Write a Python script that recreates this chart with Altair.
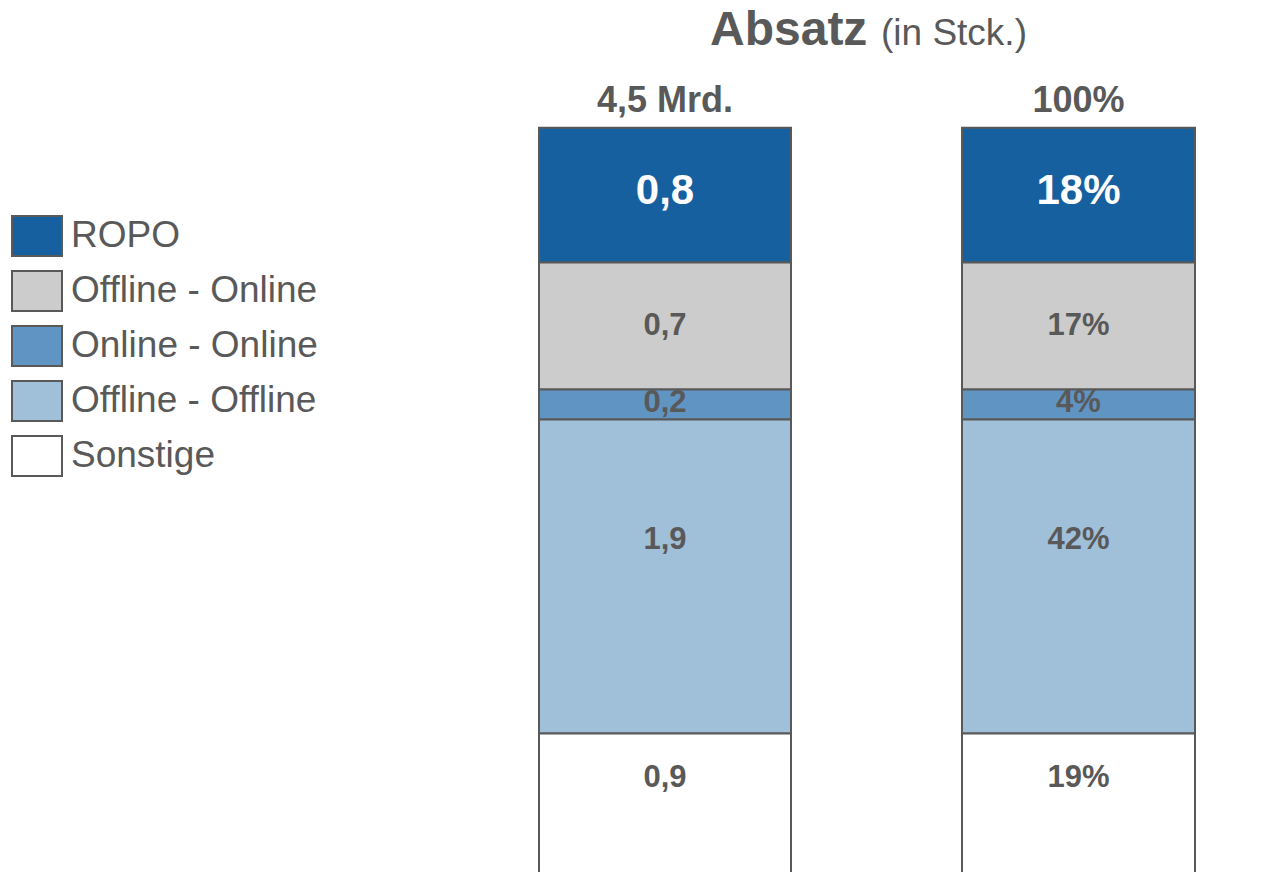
import altair as alt
import pandas as pd

# ---- data -------------------------------------------------------------
categories = ["ROPO", "Offline - Online", "Online - Online", "Offline - Offline", "Sonstige"]
colors = ["#1660A0", "#CCCCCC", "#6094C2", "#A0BFD9", "#FFFFFF"]
abs_values = [0.8, 0.7, 0.2, 1.9, 0.9]   # Mrd. Stück
pct_values = [18, 17, 4, 42, 19]          # Anteil in %
bars = ["abs", "pct"]

GRAY = "#595959"
FONT = "Liberation Sans"


def de(v):
    return f"{v:.1f}".replace(".", ",")


rows = []
for i, c in enumerate(categories):
    order = len(categories) - 1 - i
    # both bars are drawn by share (%); the left one is labelled in Mrd.
    rows.append(dict(bar="abs", cat=c, share=pct_values[i], label=de(abs_values[i]), order=order))
    rows.append(dict(bar="pct", cat=c, share=pct_values[i], label=f"{pct_values[i]}%", order=order))
df = pd.DataFrame(rows)

totals = pd.DataFrame({
    "bar": bars,
    "label": [de(sum(abs_values)) + " Mrd.", f"{sum(pct_values)}%"],
})

# ---- scales -----------------------------------------------------------
PX_PER_UNIT = 748.0
yscale = alt.Scale(domain=[0.005, 1.16008], nice=False, zero=False)
xscale = alt.Scale(type="point", domain=bars, range=[657, 1070.5], padding=0)

# label offsets in pixels (downwards positive)
label_shift = {"ROPO": -4, "Offline - Online": 0, "Online - Online": -1,
               "Offline - Offline": -37, "Sonstige": -27}
shift_expr = " : ".join(
    f"datum.cat === '{k}' ? {v}" for k, v in label_shift.items()
) + " : 0"

base = alt.Chart(df).transform_stack(
    stack="share",
    groupby=["bar"],
    as_=["y0", "y1"],
    offset="normalize",
    sort=[alt.SortField("order", order="ascending")],
)

bar_layer = base.mark_bar(stroke=GRAY, strokeWidth=2, clip=True).encode(
    x=alt.X("bar:N", scale=xscale, axis=None),
    y=alt.Y("y0:Q", scale=yscale, axis=None),
    y2="y1:Q",
    color=alt.Color(
        "cat:N",
        scale=alt.Scale(domain=categories, range=colors),
        legend=alt.Legend(
            title=None,
            orient="none",
            legendX=8,
            legendY=207,
            symbolType="M-1.25,-1H1.25V1H-1.25Z",
            symbolSize=1600,
            symbolStrokeColor=GRAY,
            symbolStrokeWidth=2,
            symbolOpacity=1,
            labelFont=FONT,
            labelFontSize=37,
            labelColor=GRAY,
            labelOffset=13,
            labelLimit=500,
            rowPadding=7,
            padding=0,
        ),
    ),
    size=alt.condition(alt.datum.bar == "abs", alt.value(252), alt.value(233)),
)

text_layer = base.transform_calculate(
    shift=shift_expr
).transform_calculate(
    ymid=f"(datum.y0 + datum.y1) / 2 - datum.shift / {PX_PER_UNIT}"
).mark_text(font=FONT, fontWeight="bold", align="center", baseline="middle").encode(
    x=alt.X("bar:N", scale=xscale, axis=None),
    y=alt.Y("ymid:Q", scale=yscale, axis=None),
    text="label:N",
    color=alt.condition(alt.datum.cat == "ROPO", alt.value("white"), alt.value(GRAY)),
    size=alt.condition(alt.datum.cat == "ROPO", alt.value(42), alt.value(31)),
)

total_layer = alt.Chart(totals).transform_calculate(top="1").mark_text(
    font=FONT, fontWeight="bold", fontSize=36, color=GRAY,
    align="center", baseline="middle", dy=-27,
).encode(
    x=alt.X("bar:N", scale=xscale, axis=None),
    y=alt.Y("top:Q", scale=yscale, axis=None),
    text="label:N",
)

title_main = alt.Chart(pd.DataFrame({"t": ["Absatz"]})).mark_text(
    font=FONT, fontWeight="bold", fontSize=48, color=GRAY,
    align="left", baseline="alphabetic",
).encode(x=alt.value(702), y=alt.value(37), text="t:N")

title_sub = alt.Chart(pd.DataFrame({"t": ["(in Stck.)"]})).mark_text(
    font=FONT, fontSize=37, color=GRAY,
    align="left", baseline="alphabetic",
).encode(x=alt.value(873), y=alt.value(37), text="t:N")

chart = alt.layer(
    bar_layer, text_layer, total_layer, title_main, title_sub
).properties(
    width=1254, height=864, padding=0, autosize="none"
).configure_view(stroke=None)

chart.save("out.html", embed_options={"renderer": "svg", "actions": False})
